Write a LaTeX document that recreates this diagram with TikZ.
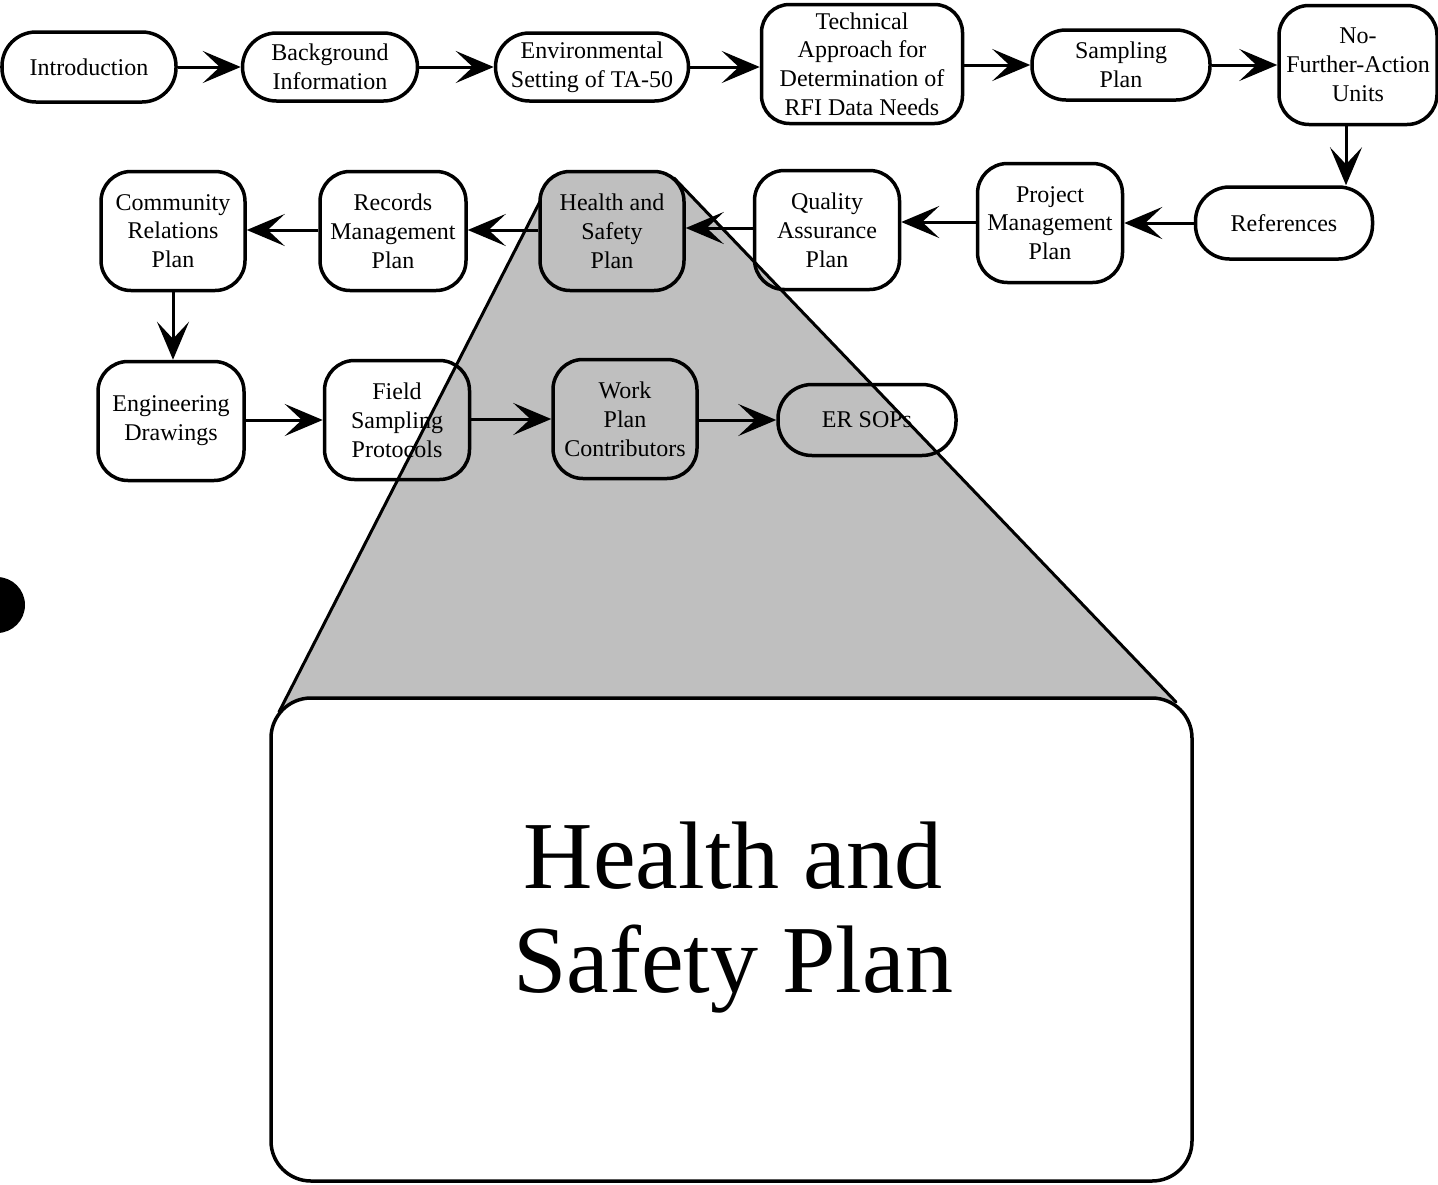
\documentclass[tikz,border=0pt]{standalone}
\usepackage{fontspec}
\setmainfont{Liberation Serif}
\usetikzlibrary{arrows.meta}
\begin{document}
\begin{tikzpicture}[x=1pt,y=-1pt,
  box/.style={draw,line width=3.5pt,rounded corners=30pt,align=center,
    font=\fontsize{24}{28.8}\selectfont,inner sep=0pt},
  pill/.style={box,minimum height=70pt,rounded corners=34pt},
  tall/.style={box,minimum height=119pt},
  arr/.style={line width=3pt,-{Stealth[length=38pt 0 0,width=32pt 0,inset=17pt 0]}},
  shade/.style={fill=black!25},
  edge/.style={line width=3pt,line cap=round}]
\useasboundingbox (0,0) rectangle (1438,1184);
% zoom trapezoid
\fill[shade] (552,178) -- (674,178) -- (1176,702) -- (279,712) -- cycle;
\draw[edge] (552,178) -- (279,712);
\draw[edge] (674,178) -- (1176,702);
% punch hole
\fill (-3,605) circle (28);
% row 1
\node[pill,minimum width=174pt] (intro) at (89,67) {Introduction};
\node[pill,minimum width=175pt,minimum height=68pt] (bg) at (330,67) {Background\\Information};
\node[pill,minimum width=193pt,minimum height=68pt] (env) at (592,67) {Environmental\\Setting of TA-50};
\node[tall,minimum width=201pt,rounded corners=28pt] (tech) at (862,64) {Technical\\Approach for\\Determination of\\RFI Data Needs};
\node[pill,minimum width=178pt] (samp) at (1121,65) {Sampling\\Plan};
\node[tall,minimum width=158pt] (nfa) at (1358,65) {No-\\Further-Action\\Units};
% row 2
\node[pill,minimum width=177pt,minimum height=72pt] (refs) at (1284,223) {References};
\node[tall,minimum width=145pt] (pmp) at (1050,223) {Project\\Management\\Plan};
\node[tall,minimum width=145pt] (qa) at (827,230) {Quality\\Assurance\\Plan};
\node[tall,minimum width=144pt,shade] (hsp) at (612,231) {Health and\\Safety\\Plan};
\node[tall,minimum width=146pt] (rmp) at (393,231) {Records\\Management\\Plan};
\node[tall,minimum width=144pt] (crp) at (173,231) {Community\\Relations\\Plan};
% row 3
\node[tall,minimum width=146pt] (eng) at (171,421) {Engineering\\Drawings};
\node[tall,minimum width=145pt] (fsp) at (397,420) {Field\\Sampling\\Protocols};
\node[tall,minimum width=144pt] (wpc) at (625,419) {Work\\Plan\\Contributors};
\node[pill,minimum width=178pt,minimum height=71pt] (ersop) at (867,420) {ER SOPs};
% big box
\node[draw,fill=white,line width=3.5pt,rounded corners=40pt,minimum width=921pt,minimum height=483pt] (big) at (731.5,939.5) {};
\node[align=center,font=\fontsize{96}{104}\selectfont,inner sep=0pt] (bigtext) at (733,918) {Health and\\Safety Plan};
% connectors row 1
\draw[arr] (intro.east) -- (bg.west);
\draw[arr] (bg.east) -- (env.west);
\draw[arr] (env.east) -- (env.east -| tech.west);
\draw[arr] (tech.east |- samp.west) -- (samp.west);
\draw[arr] (samp.east) -- (samp.east -| nfa.west);
\draw[arr] ([xshift=-12pt]nfa.south) -- ([xshift=-12pt]nfa.south |- refs.north);
% row 2
\draw[arr] (refs.west) -- (refs.west -| pmp.east);
\draw[arr] ([yshift=1pt]pmp.east -| pmp.west) -- ([yshift=1pt]pmp.east -| qa.east);
\draw[arr] ([yshift=2pt]qa.west) -- ([yshift=2pt]qa.west -| hsp.east);
\draw[arr] ([yshift=1pt]hsp.west) -- ([yshift=1pt]hsp.west -| rmp.east);
\draw[arr] ([yshift=1pt]rmp.west) -- ([yshift=1pt]rmp.west -| crp.east);
\draw[arr] (crp.south) -- (crp.south |- eng.north);
% row 3
\draw[arr] (eng.east |- fsp.west) -- (fsp.west);
\draw[arr] (fsp.east |- wpc.west) -- (wpc.west);
\draw[arr] (wpc.east |- ersop.west) -- (ersop.west);
\end{tikzpicture}
\end{document}
